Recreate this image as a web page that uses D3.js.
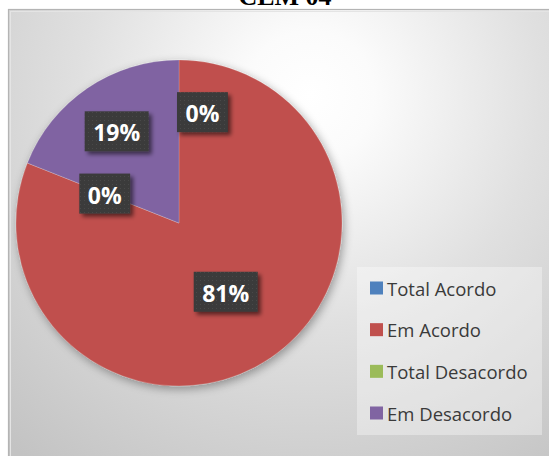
<!DOCTYPE html>
<html>
<head>
<meta charset="utf-8">
<script src="https://cdn.jsdelivr.net/npm/d3@7"></script>
<style>
  html, body { margin: 0; padding: 0; background: #ffffff; overflow: hidden; }
  svg { display: block; }
</style>
</head>
<body>
<svg id="chart" width="549" height="456"></svg>
<script>
// Chart data
const title = "CEM 04";
const categories = ["Total Acordo", "Em Acordo", "Total Desacordo", "Em Desacordo"];
const values = [0, 81, 0, 19];
const colors = ["#4F81BD", "#C0504D", "#9BBB59", "#8064A2"];

// Data-label placement (fraction of the radius) and box alignment
const labelRadius = [0.68, 0.51, 0.49, 0.68];
const labelAlign = ["start", "middle", "middle", "middle"];

const W = 549, H = 456;
const svg = d3.select("#chart");
const defs = svg.append("defs");

// Chart-area background: soft radial gradient
const bg = defs.append("radialGradient")
  .attr("id", "bgGrad")
  .attr("gradientUnits", "userSpaceOnUse")
  .attr("cx", 310).attr("cy", 95).attr("r", 460);
[[0, "#ffffff"], [0.14, "#fbfbfb"], [0.5, "#e0e0e0"], [1, "#c3c3c3"]]
  .forEach(([o, c]) => bg.append("stop").attr("offset", o).attr("stop-color", c));

// Soft shadow under the pie
const pieShadow = defs.append("filter").attr("id", "pieShadow")
  .attr("x", "-20%").attr("y", "-20%").attr("width", "140%").attr("height", "140%");
pieShadow.append("feGaussianBlur").attr("in", "SourceAlpha").attr("stdDeviation", 5).attr("result", "b");
pieShadow.append("feOffset").attr("in", "b").attr("dx", 2).attr("dy", 3).attr("result", "o");
pieShadow.append("feComponentTransfer").attr("in", "o").attr("result", "s")
  .append("feFuncA").attr("type", "linear").attr("slope", 0.35);
const pm = pieShadow.append("feMerge");
pm.append("feMergeNode").attr("in", "s");
pm.append("feMergeNode").attr("in", "SourceGraphic");

// Shadow under the label boxes
const boxShadow = defs.append("filter").attr("id", "boxShadow")
  .attr("x", "-30%").attr("y", "-30%").attr("width", "170%").attr("height", "170%");
boxShadow.append("feGaussianBlur").attr("in", "SourceAlpha").attr("stdDeviation", 2).attr("result", "b");
boxShadow.append("feOffset").attr("in", "b").attr("dx", 3).attr("dy", 3).attr("result", "o");
boxShadow.append("feComponentTransfer").attr("in", "o").attr("result", "s")
  .append("feFuncA").attr("type", "linear").attr("slope", 0.55);
const bm = boxShadow.append("feMerge");
bm.append("feMergeNode").attr("in", "s");
bm.append("feMergeNode").attr("in", "SourceGraphic");

// Dotted dark fill for the label boxes
const dots = defs.append("pattern").attr("id", "dots")
  .attr("patternUnits", "userSpaceOnUse").attr("width", 4).attr("height", 4);
dots.append("rect").attr("width", 4).attr("height", 4).attr("fill", "#3a3a3a");
dots.append("rect").attr("x", 1).attr("y", 1).attr("width", 1).attr("height", 1).attr("fill", "#484848");

// Title (sits above the chart area, clipped by the top edge)
svg.append("text")
  .attr("x", 285).attr("y", 5)
  .attr("text-anchor", "middle")
  .style("font-family", "'Liberation Serif', 'Times New Roman', serif")
  .style("font-weight", "bold")
  .style("font-size", "26px")
  .attr("fill", "#000")
  .text(title);

// Chart area
svg.append("rect")
  .attr("x", 8.5).attr("y", 9.5)
  .attr("width", W).attr("height", H)
  .attr("fill", "url(#bgGrad)")
  .attr("stroke", "#b4b4b4").attr("stroke-width", 1.2);
svg.append("rect")
  .attr("x", 10.5).attr("y", 11.5)
  .attr("width", W).attr("height", H)
  .attr("fill", "none")
  .attr("stroke", "#e4e4e4").attr("stroke-width", 1);

// Pie
const cx = 179, cy = 223, R = 163;
const pie = d3.pie().sort(null).value(d => d).startAngle(0).endAngle(2 * Math.PI);
const arcs = pie(values);
const arc = d3.arc().innerRadius(0).outerRadius(R);

const gPie = svg.append("g")
  .attr("transform", `translate(${cx},${cy})`)
  .attr("filter", "url(#pieShadow)");
gPie.selectAll("path")
  .data(arcs)
  .join("path")
  .attr("d", arc)
  .attr("fill", (d, i) => colors[i])
  .attr("stroke", "rgba(255,255,255,0.25)")
  .attr("stroke-width", 0.6);

// Data labels
const total = d3.sum(values);
const fmt = d3.format(".0%");
const gLab = svg.append("g").attr("transform", `translate(${cx},${cy})`);
arcs.forEach((d, i) => {
  const a = (d.startAngle + d.endAngle) / 2;
  const r = labelRadius[i] * R;
  const ax = r * Math.sin(a), ay = -r * Math.cos(a);
  const g = gLab.append("g");
  const rect = g.append("rect").attr("fill", "url(#dots)").attr("filter", "url(#boxShadow)");
  const t = g.append("text")
    .attr("text-anchor", "middle")
    .attr("dominant-baseline", "central")
    .style("font-family", "'Open Sans', 'DejaVu Sans', sans-serif")
    .style("font-weight", "bold")
    .style("font-size", "23px")
    .attr("fill", "#ffffff")
    .text(fmt(d.value / total));
  const tw = t.node().getComputedTextLength();
  const bw = tw + 17, bh = 40;
  const bx = labelAlign[i] === "start" ? ax - 2 : ax - bw / 2;
  rect.attr("x", bx).attr("y", ay - bh / 2).attr("width", bw).attr("height", bh);
  t.attr("x", bx + bw / 2).attr("y", ay + 1);
});

// Legend
const legX = 357, legY = 267, legW = 185, legH = 168;
const gLeg = svg.append("g");
gLeg.append("rect")
  .attr("x", legX).attr("y", legY).attr("width", legW).attr("height", legH)
  .attr("fill", "rgba(255,255,255,0.35)");
const legScale = d3.scalePoint().domain(categories).range([legY + 21, legY + 146]);
categories.forEach((c, i) => {
  const y = legScale(c);
  gLeg.append("rect")
    .attr("x", legX + 13).attr("y", y - 6.5)
    .attr("width", 13).attr("height", 13)
    .attr("fill", colors[i]);
  gLeg.append("text")
    .attr("x", legX + 30).attr("y", y)
    .attr("dominant-baseline", "central")
    .style("font-family", "'Open Sans', 'DejaVu Sans', sans-serif")
    .style("font-size", "18.5px")
    .attr("fill", "#3a3a3a")
    .text(c);
});
</script>
</body>
</html>
